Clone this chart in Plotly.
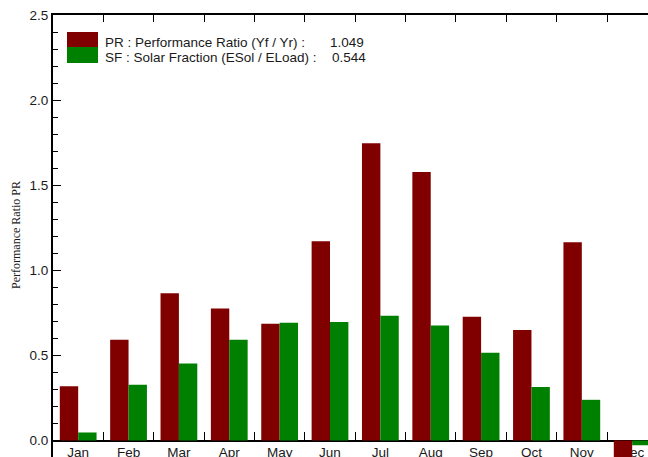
import plotly.graph_objects as go

months = ["Jan", "Feb", "Mar", "Apr", "May", "Jun", "Jul", "Aug", "Sep", "Oct", "Nov", "Dec"]
pr_values = [0.318, 0.592, 0.865, 0.776, 0.686, 1.171, 1.746, 1.578, 0.727, 0.649, 1.165, -0.15]
sf_values = [0.047, 0.327, 0.453, 0.592, 0.692, 0.696, 0.733, 0.676, 0.516, 0.314, 0.239, -0.028]
pr_label = "PR : Performance Ratio (Yf / Yr) :"
sf_label = "SF : Solar Fraction (ESol / ELoad) :"
pr_annual = "1.049"
sf_annual = "0.544"
y_title = "Performance Ratio PR"

W, H = 648, 457
ML, MT = 53, 15
PW, PH = W - ML, H - MT


def px(sx):
    return (sx - ML) / PW


def py(sy):
    return (H - sy) / PH


PR_COLOR = "#800000"
SF_COLOR = "#008000"
FONT = "Liberation Sans, Arial, sans-serif"
FS = 13.5

fig = go.Figure()
fig.add_trace(go.Bar(x=months, y=pr_values, name="PR", marker=dict(color=PR_COLOR, line=dict(width=0))))
fig.add_trace(go.Bar(x=months, y=sf_values, name="SF", marker=dict(color=SF_COLOR, line=dict(width=0))))
fig.add_trace(go.Scatter(x=months, y=[None] * len(months), xaxis="x2", showlegend=False,
                         hoverinfo="skip", mode="markers"))

month_px = 50.33
xr = [-0.5, -0.5 + (W - 53.4) / month_px]
y0px = 440.5
ymin = -(H - y0px) / 170.0

fig.update_layout(
    width=W, height=H,
    margin=dict(l=ML, r=0, t=MT, b=0, pad=0, autoexpand=False),
    paper_bgcolor="white", plot_bgcolor="white",
    barmode="group", bargap=0.27, bargroupgap=0,
    showlegend=False,
    font=dict(family=FONT, size=FS, color="#1a1a1a"),
    xaxis=dict(
        type="category", categoryorder="array", categoryarray=months,
        range=xr, anchor="free", position=py(y0px), automargin=False,
        showline=True, linecolor="black", linewidth=1.5,
        ticks="inside", tickson="boundaries", ticklen=8, tickcolor="black", tickwidth=1,
        showgrid=False, zeroline=False, layer="below traces",
        tickfont=dict(family=FONT, size=FS, color="#1a1a1a"),
    ),
    xaxis2=dict(
        type="category", categoryorder="array", categoryarray=months,
        range=xr, overlaying="x", side="top", anchor="y", automargin=False,
        showline=True, linecolor="black", linewidth=1.5,
        ticks="inside", tickson="boundaries", ticklen=7, tickcolor="black", tickwidth=1,
        showticklabels=False, showgrid=False, zeroline=False,
    ),
    yaxis=dict(
        range=[ymin, 2.5], dtick=0.5, tick0=0, tickformat=".1f", automargin=False,
        showline=True, linecolor="black", linewidth=2,
        ticks="inside", ticklen=8, tickcolor="black", tickwidth=1,
        minor=dict(dtick=0.1, tick0=0, ticks="inside", ticklen=5, tickcolor="black", tickwidth=1),
        showgrid=False, zeroline=False,
        tickfont=dict(family=FONT, size=FS, color="#1a1a1a"),
    ),
)

# legend boxes
fig.add_shape(type="rect", xref="paper", yref="paper", x0=px(67), x1=px(98), y0=py(47), y1=py(32),
              fillcolor=PR_COLOR, line=dict(width=0))
fig.add_shape(type="rect", xref="paper", yref="paper", x0=px(67), x1=px(98), y0=py(63), y1=py(47),
              fillcolor=SF_COLOR, line=dict(width=0))

for txt, x, y in [(pr_label, 103, 42.5), (pr_annual, 328, 42.5), (sf_label, 103, 58), (sf_annual, 330, 58)]:
    fig.add_annotation(text=txt, xref="paper", yref="paper", x=px(x), y=py(y),
                       xanchor="left", yanchor="middle", showarrow=False,
                       font=dict(family=FONT, size=FS, color="#1a1a1a"))

fig.add_annotation(text=y_title, xref="paper", yref="paper", x=px(16), y=py(235),
                   xanchor="center", yanchor="middle", textangle=-90, showarrow=False,
                   font=dict(family="Liberation Serif, Times New Roman, serif", size=12, color="#1a1a1a"))

fig.write_html("out.html",
               config={"displayModeBar": False},
               post_script="document.body.style.margin='0';document.body.style.overflow='hidden';")
